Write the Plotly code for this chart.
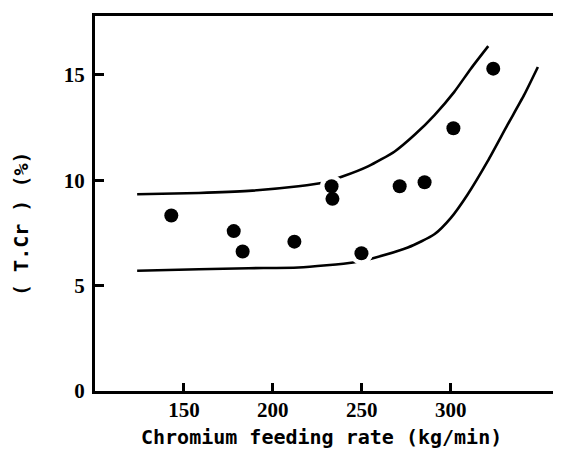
import plotly.graph_objects as go

# Measured points
feed_rate = [142.9, 178.0, 183.0, 212.1, 233.0, 233.5, 249.8, 271.3, 285.3, 301.5, 323.9]
t_cr = [8.33, 7.59, 6.62, 7.09, 9.72, 9.12, 6.54, 9.72, 9.91, 12.47, 15.30]

# Upper band curve
upper_x = [123.7, 158.4, 186.4, 214.4, 227.4, 239.5, 253.5, 268.5, 279.7, 290.9, 302.0, 311.3, 321.1]
upper_y = [9.34, 9.40, 9.50, 9.72, 9.87, 10.19, 10.66, 11.37, 12.16, 13.10, 14.20, 15.30, 16.37]

# Lower band curve
lower_x = [123.7, 158.4, 186.4, 214.4, 245.1, 257.3, 275.9, 290.8, 300.1, 309.5, 320.7, 331.9, 341.2, 349.0]
lower_y = [5.71, 5.78, 5.83, 5.86, 6.10, 6.33, 6.81, 7.44, 8.22, 9.33, 10.90, 12.63, 14.04, 15.38]

x_ticks = [150, 200, 250, 300]
y_ticks = [0, 5, 10, 15]

fig = go.Figure()
for cx, cy in ((upper_x, upper_y), (lower_x, lower_y)):
    fig.add_trace(go.Scatter(x=cx, y=cy, mode="lines",
                             line=dict(color="black", width=2.6, shape="spline", smoothing=0.6),
                             hoverinfo="skip", showlegend=False))
# white halos that break the curves near dots
fig.add_trace(go.Scatter(x=feed_rate, y=t_cr, mode="markers",
                         marker=dict(color="white", size=23, line=dict(width=0)),
                         hoverinfo="skip", showlegend=False))
fig.add_trace(go.Scatter(x=feed_rate, y=t_cr, mode="markers",
                         marker=dict(color="black", size=14, line=dict(width=0)),
                         showlegend=False))

tickfont = dict(family="Liberation Serif", size=21, color="black", weight="bold")
titlefont = dict(family="DejaVu Sans Mono", size=20, color="black", weight="bold")

fig.update_xaxes(range=[100, 357.5], tickvals=x_ticks, ticks="inside", ticklen=8, tickwidth=3,
                 tickcolor="black", showline=True, linecolor="black", linewidth=3, mirror=True,
                 showgrid=False, zeroline=False, tickfont=tickfont, ticklabelstandoff=-2)
fig.update_yaxes(range=[0, 17.8], tickvals=y_ticks, ticks="inside", ticklen=9, tickwidth=3,
                 tickcolor="black", showline=True, linecolor="black", linewidth=3, mirror=True,
                 showgrid=False, zeroline=False, tickfont=tickfont, ticklabelstandoff=3)

# figure is placed 8px from the page's top-left corner by the default body margin
fig.add_annotation(text="Chromium feeding rate (kg/min)", xref="paper", yref="paper",
                   x=0.4935, y=-0.122, showarrow=False, font=titlefont,
                   xanchor="center", yanchor="middle")
fig.add_annotation(text="( T.Cr ) (%)", xref="paper", yref="paper",
                   x=-0.1616, y=0.448, showarrow=False, font=titlefont, textangle=-90,
                   xanchor="center", yanchor="middle")

fig.update_layout(width=553, height=442, margin=dict(l=87, r=5, t=6, b=59),
                  plot_bgcolor="white", paper_bgcolor="white")
fig.write_html("out.html")
